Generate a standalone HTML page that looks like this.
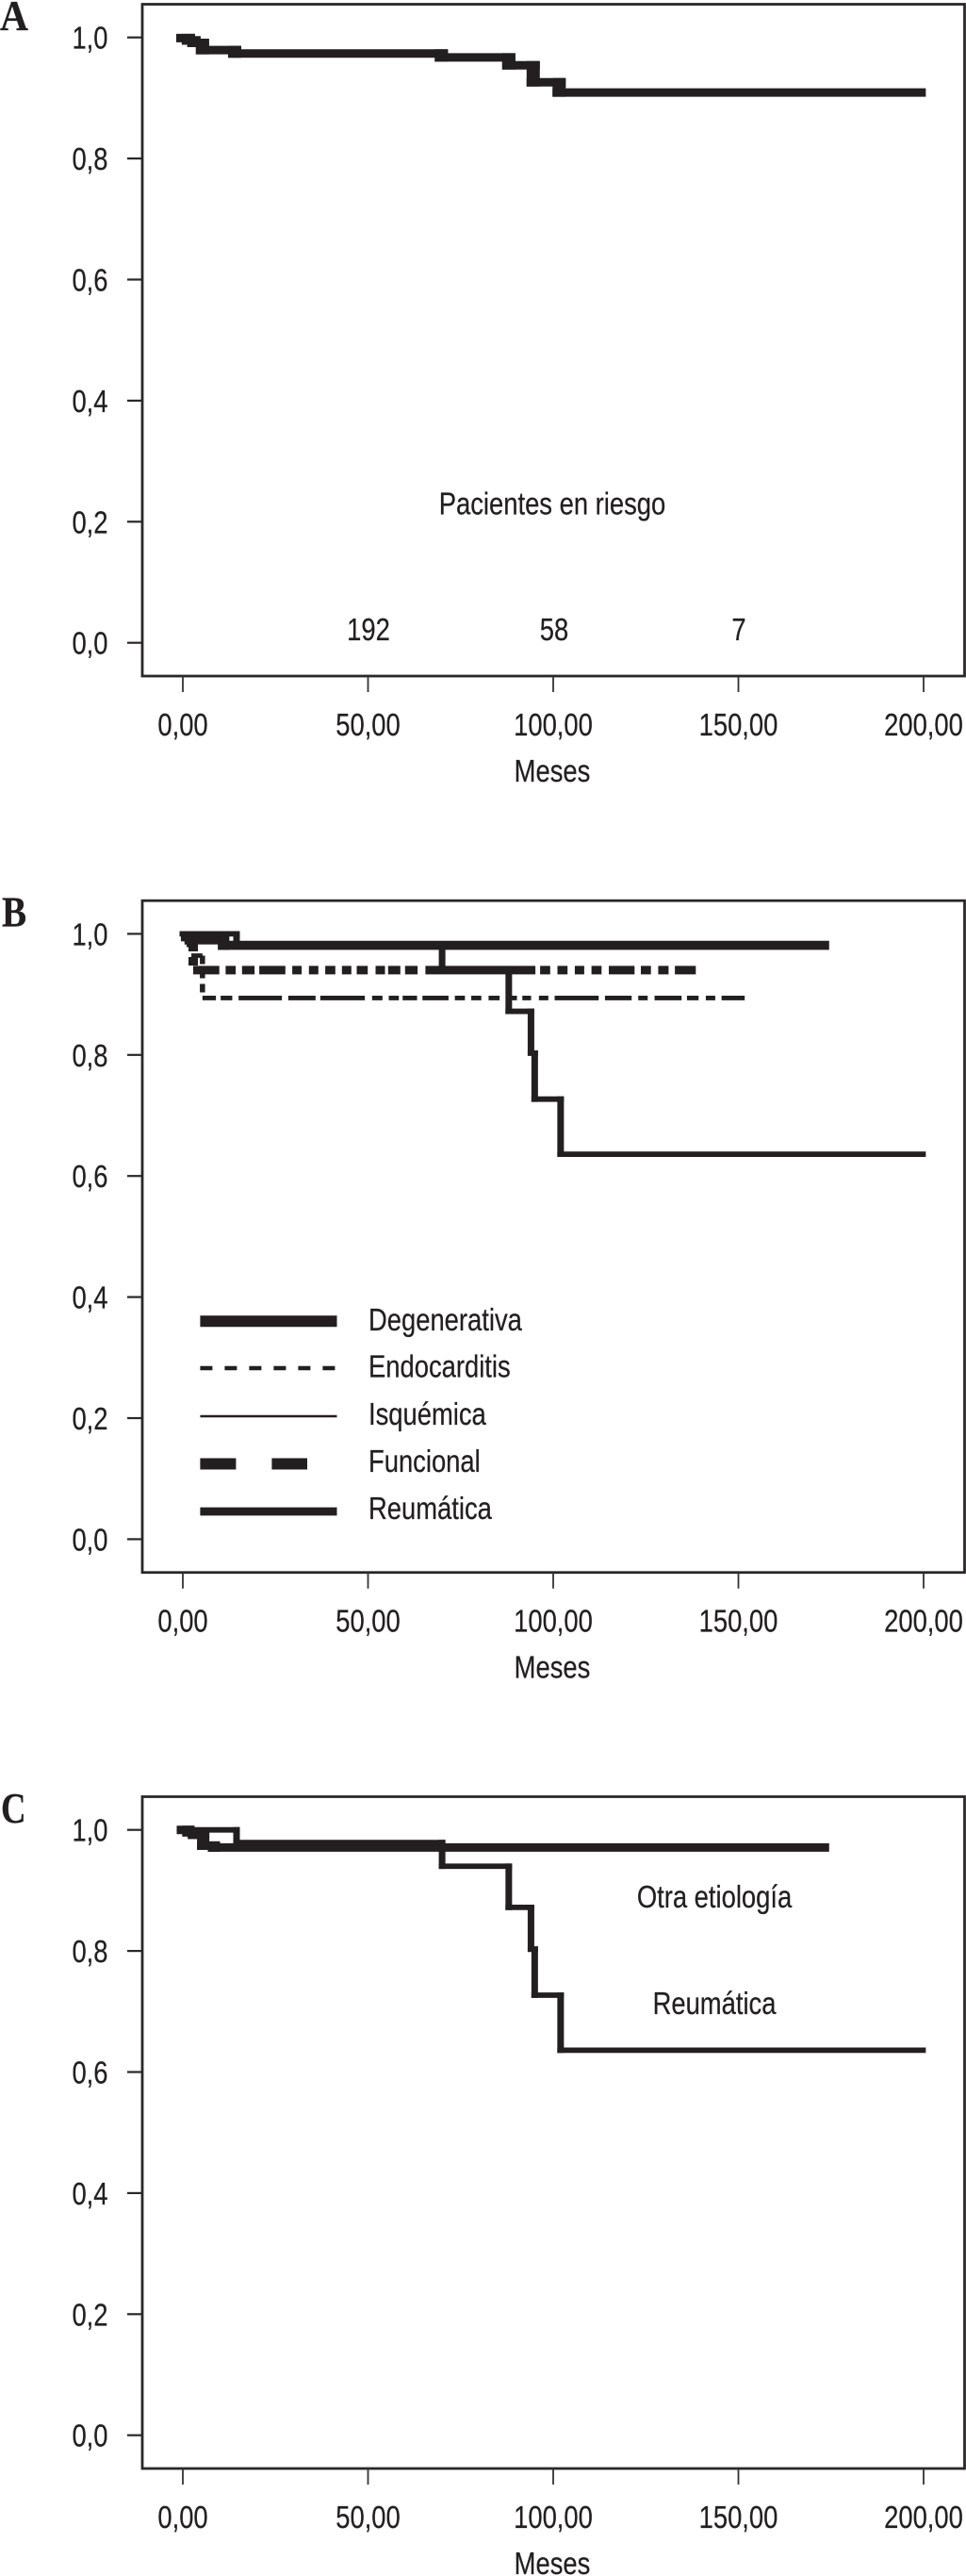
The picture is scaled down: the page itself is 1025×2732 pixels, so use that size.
<!DOCTYPE html>
<html lang="es">
<head>
<meta charset="utf-8">
<title>Curvas de supervivencia</title>
<style>
html,body{margin:0;padding:0;background:#fff;}
svg{display:block;}
text{font-family:"Liberation Sans",sans-serif;font-size:33px;fill:#231f20;stroke:#231f20;stroke-width:.25px;}
.letter{font-family:"Liberation Serif",serif;font-size:46px;font-weight:bold;}
.frame{fill:none;stroke:#2a2728;stroke-width:2.8;}
</style>
</head>
<body>
<svg id="fig" width="1025" height="2732" viewBox="0 0 1025 2732" xmlns="http://www.w3.org/2000/svg">
  <rect width="1025" height="2732" fill="#fff"/>

  <g id="panel-a" transform="translate(0,0)">
    <text class="letter" transform="translate(0,32) scale(.9,1)">A</text>
    <rect class="frame" x="151" y="4.5" width="872.5" height="712.5"/>
    <text transform="translate(586,829) scale(.83,1)" text-anchor="middle">Meses</text>
    <text transform="translate(586,545.7) scale(.83,1)" text-anchor="middle">Pacientes en riesgo</text>
    <text transform="translate(391,679) scale(.83,1)" text-anchor="middle">192</text>
    <text transform="translate(588,679) scale(.83,1)" text-anchor="middle">58</text>
    <text transform="translate(784,679) scale(.83,1)" text-anchor="middle">7</text>
  </g>

  <g id="panel-b" transform="translate(0,950.7)">
    <text class="letter" transform="translate(2,32) scale(.85,1)">B</text>
    <rect class="frame" x="151" y="4.5" width="872.5" height="712.5"/>
    <text transform="translate(586,829) scale(.83,1)" text-anchor="middle">Meses</text>
    <g>
      <line x1="212.4" x2="357.5" y1="450.5" y2="450.5" stroke="#231f20" stroke-width="12"/>
      <text transform="translate(391,460.3) scale(.83,1)">Degenerativa</text>
      <line x1="212.4" x2="357.5" y1="500.3" y2="500.3" stroke="#231f20" stroke-width="4.6" stroke-dasharray="13 13"/>
      <text transform="translate(391,510) scale(.83,1)">Endocarditis</text>
      <line x1="212.4" x2="357.5" y1="551.3" y2="551.3" stroke="#231f20" stroke-width="2.5"/>
      <text transform="translate(391,560.3) scale(.83,1)">Isquémica</text>
      <line x1="212.4" x2="326" y1="601.8" y2="601.8" stroke="#231f20" stroke-width="12" stroke-dasharray="38 38"/>
      <text transform="translate(391,610.3) scale(.83,1)">Funcional</text>
      <line x1="212.4" x2="357.5" y1="652.3" y2="652.3" stroke="#231f20" stroke-width="8.7"/>
      <text transform="translate(391,660.3) scale(.83,1)">Reumática</text>
    </g>
  </g>

  <g id="panel-c" transform="translate(0,1901)">
    <text class="letter" transform="translate(1,32) scale(.8,1)">C</text>
    <rect class="frame" x="151" y="4.5" width="872.5" height="712.5"/>
    <text transform="translate(586,829) scale(.83,1)" text-anchor="middle">Meses</text>
    <text transform="translate(758,122) scale(.83,1)" text-anchor="middle">Otra etiología</text>
    <text transform="translate(758,235) scale(.83,1)" text-anchor="middle">Reumática</text>
  </g>
</svg>

<script>
const xTickValues = [0, 50, 100, 150, 200];
const xTickLabels = ['0,00', '50,00', '100,00', '150,00', '200,00'];
const yTickValues = [1, 0.8, 0.6, 0.4, 0.2, 0];
const yTickLabels = ['1,0', '0,8', '0,6', '0,4', '0,2', '0,0'];

const globalTimes = [0, 1.5, 3, 5.3, 14, 69.8, 88, 94.6, 101.6];
const globalSurvival = [0.999, 0.995, 0.991, 0.979, 0.9735, 0.967, 0.954, 0.926, 0.909];
const globalEnd = 200.6;

const reumaticaTimes = [0, 14.5, 70, 88, 94, 95, 102];
const reumaticaSurvival = [1, 0.979, 0.94, 0.872, 0.803, 0.727, 0.636];
const reumaticaEnd = 200.6;

const degenerativaTimes = [1, 2, 11];
const degenerativaSurvival = [0.995, 0.99, 0.981];
const degenerativaEnd = 174.5;

const endocarditisTimes = [2.3, 5.3];
const endocarditisSurvival = [0.964, 0.894];
const endocarditisEnd = 151.7;

const funcionalTimes = [1, 2.8];
const funcionalSurvival = [0.985, 0.94];
const funcionalEnd = 138.5;

const otraTimes = [0, 1.5, 3, 5.5, 8.4];
const otraSurvival = [1, 0.996, 0.992, 0.974, 0.971];
const otraEnd = 174.5;

const SVGNS = 'http://www.w3.org/2000/svg';
const INK = '#231f20';
const funcionalDash = '27.7 6.7 10.7 6.7 13.3 5 27.7 7.3 10 7.7 10 7.3 10.7 7 10 5.7 11.7 8.3 10 3.3 13 5 13.3 8.3 116.7 5 10.7 7.7 10.7 7.7 10 7.7 10.7 7.7 27.3 6.7 10.7 7.7 11 6.7 22.3 40';
const endocarditisDash = '14.3 5 12.3 6.7 46 6.7 29 5 47.3 7.7 11 6.7 10.7 4 15.3 5.7 27.7 6.7 10.7 6.7 10.7 7.7 11.7 6.7 11.7 5.7 9.3 8.3 10 6.7 46.7 6.7 28.3 7 10 7.3 28.7 5.7 12.3 7.7 10 6.7 25 40';

function xScale(t) { return 194 + t * 3.93; }
function yScale(s) { return 39.7 + (1 - s) * 642; }

function drawAxes(group, prefix) {
  xTickValues.forEach(function (v, i) {
    const tick = document.createElementNS(SVGNS, 'line');
    tick.setAttribute('x1', xScale(v));
    tick.setAttribute('x2', xScale(v));
    tick.setAttribute('y1', 717);
    tick.setAttribute('y2', 734);
    tick.setAttribute('stroke', '#333');
    tick.setAttribute('stroke-width', 1.8);
    
    
    group.appendChild(tick);
    const label = document.createElementNS(SVGNS, 'text');
    label.setAttribute('transform', 'translate(' + xScale(v) + ',780) scale(.83,1)');
    label.setAttribute('text-anchor', 'middle');
    label.textContent = xTickLabels[i];
    
    
    group.appendChild(label);
  });
  yTickValues.forEach(function (v, i) {
    const tick = document.createElementNS(SVGNS, 'line');
    tick.setAttribute('x1', 135);
    tick.setAttribute('x2', 151);
    tick.setAttribute('y1', yScale(v));
    tick.setAttribute('y2', yScale(v));
    tick.setAttribute('stroke', '#2a2728');
    tick.setAttribute('stroke-width', 2.2);
    
    
    group.appendChild(tick);
    const label = document.createElementNS(SVGNS, 'text');
    label.setAttribute('transform', 'translate(114.5,' + (yScale(v) + 12) + ') scale(.83,1)');
    label.setAttribute('text-anchor', 'end');
    label.textContent = yTickLabels[i];
    
    
    group.appendChild(label);
  });
}

/* Kaplan-Meier step curve: horizontals and verticals are stroked separately,
   because the source figure was squeezed horizontally and its strokes are uneven. */
function drawCurve(group, name, times, survival, end, hWidth, vWidth, hDash, vDash) {
  let h = '';
  let v = '';
  const ext = hDash ? 0 : vWidth / 2;
  times.forEach(function (t, i) {
    const next = i + 1 < times.length ? times[i + 1] : end;
    const rightExt = i + 1 < times.length ? ext : 0;
    h += 'M' + (xScale(t) - ext) + ' ' + yScale(survival[i]) + 'H' + (xScale(next) + rightExt);
    if (i + 1 < times.length) {
      const over = vDash ? 0 : hWidth / 2;
      v += 'M' + xScale(next) + ' ' + (yScale(survival[i]) - over) + 'V' + (yScale(survival[i + 1]) + over);
    }
  });
  const curve = document.createElementNS(SVGNS, 'g');
  
  
  const hp = document.createElementNS(SVGNS, 'path');
  hp.setAttribute('d', h);
  hp.setAttribute('fill', 'none');
  hp.setAttribute('stroke', INK);
  hp.setAttribute('stroke-width', hWidth);
  if (hDash) hp.setAttribute('stroke-dasharray', hDash);
  
  
  curve.appendChild(hp);
  const vp = document.createElementNS(SVGNS, 'path');
  vp.setAttribute('d', v);
  vp.setAttribute('fill', 'none');
  vp.setAttribute('stroke', INK);
  vp.setAttribute('stroke-width', vWidth);
  if (vDash) vp.setAttribute('stroke-dasharray', vDash);
  
  
  curve.appendChild(vp);
  group.appendChild(curve);
}

const panelA = document.getElementById('panel-a');
const panelB = document.getElementById('panel-b');
const panelC = document.getElementById('panel-c');

drawAxes(panelA, 'panel-a');
drawAxes(panelB, 'panel-b');
drawAxes(panelC, 'panel-c');

drawCurve(panelA, 'curve-global', globalTimes, globalSurvival, globalEnd, 9, 14);

drawCurve(panelB, 'curve-endocarditis', endocarditisTimes, endocarditisSurvival, endocarditisEnd, 4.8, 5.5, endocarditisDash, '9 6');
drawCurve(panelB, 'curve-funcional', funcionalTimes, funcionalSurvival, funcionalEnd, 9, 10, funcionalDash, '9 6');
drawCurve(panelB, 'curve-degenerativa', degenerativaTimes, degenerativaSurvival, degenerativaEnd, 9.6, 12);
drawCurve(panelB, 'curve-reumatica-b', reumaticaTimes, reumaticaSurvival, reumaticaEnd, 5.8, 7);

drawCurve(panelC, 'curve-otra-etiologia', otraTimes, otraSurvival, otraEnd, 9, 13);
drawCurve(panelC, 'curve-reumatica-c', reumaticaTimes, reumaticaSurvival, reumaticaEnd, 5.8, 7);
</script>
</body>
</html>
